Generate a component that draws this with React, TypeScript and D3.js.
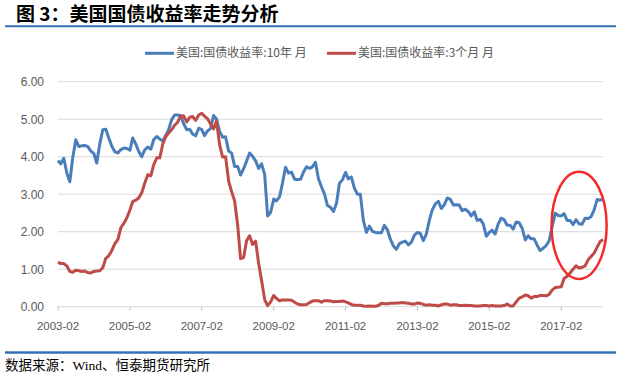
import { useMemo } from "react";
import * as d3 from "d3";

// monthly averages, 2003-02 .. 2018-04
const tenYear = [
  3.90, 3.81, 3.96, 3.57, 3.33, 3.98, 4.45, 4.27, 4.29, 4.30, 4.27,
  4.15, 4.08, 3.83, 4.35, 4.72, 4.73, 4.50, 4.28, 4.13, 4.10, 4.19, 4.23,
  4.22, 4.17, 4.50, 4.34, 4.14, 4.00, 4.18, 4.26, 4.20, 4.46, 4.54, 4.47,
  4.42, 4.57, 4.72, 4.99, 5.11, 5.11, 5.09, 4.88, 4.72, 4.73, 4.60, 4.56,
  4.76, 4.72, 4.56, 4.69, 4.75, 5.10, 5.00, 4.67, 4.52, 4.53, 4.15, 4.10,
  3.74, 3.74, 3.51, 3.68, 3.88, 4.10, 4.01, 3.89, 3.69, 3.81, 3.53, 2.42,
  2.52, 2.87, 2.82, 2.93, 3.29, 3.72, 3.56, 3.59, 3.40, 3.39, 3.40, 3.59,
  3.73, 3.69, 3.73, 3.85, 3.42, 3.20, 3.01, 2.70, 2.65, 2.54, 2.76, 3.29,
  3.39, 3.58, 3.41, 3.46, 3.17, 3.00, 3.00, 2.30, 1.98, 2.15, 2.01, 1.98,
  1.97, 1.97, 2.17, 2.05, 1.80, 1.62, 1.53, 1.68, 1.72, 1.75, 1.65, 1.72,
  1.91, 1.98, 1.96, 1.76, 1.93, 2.30, 2.58, 2.74, 2.81, 2.62, 2.72, 2.90,
  2.86, 2.71, 2.72, 2.71, 2.56, 2.60, 2.54, 2.42, 2.53, 2.30, 2.33, 2.21,
  1.88, 1.98, 2.04, 1.94, 2.20, 2.36, 2.32, 2.17, 2.17, 2.07, 2.26, 2.24,
  2.09, 1.78, 1.89, 1.81, 1.81, 1.64, 1.50, 1.56, 1.63, 1.76, 2.14, 2.49,
  2.43, 2.42, 2.48, 2.30, 2.30, 2.19, 2.32, 2.21, 2.20, 2.36, 2.35, 2.40,
  2.58, 2.86, 2.84, 2.87,
];

const threeMonth = [
  1.19, 1.15, 1.15, 1.09, 0.94, 0.92, 0.97, 0.96, 0.94, 0.95, 0.91,
  0.90, 0.94, 0.95, 0.96, 1.04, 1.29, 1.36, 1.50, 1.68, 1.79, 2.11, 2.22,
  2.37, 2.58, 2.80, 2.84, 2.90, 3.04, 3.29, 3.52, 3.49, 3.79, 3.97, 3.97,
  4.34, 4.54, 4.63, 4.72, 4.84, 4.92, 5.08, 5.09, 4.93, 5.05, 5.07, 4.97,
  5.11, 5.16, 5.08, 5.01, 4.87, 4.74, 4.96, 4.32, 3.99, 4.00, 3.35, 3.07,
  2.82, 2.17, 1.28, 1.31, 1.76, 1.89, 1.66, 1.75, 1.15, 0.69, 0.19, 0.03,
  0.13, 0.30, 0.22, 0.16, 0.18, 0.18, 0.18, 0.17, 0.12, 0.07, 0.05, 0.05,
  0.06, 0.11, 0.15, 0.16, 0.16, 0.12, 0.16, 0.16, 0.15, 0.13, 0.14, 0.14,
  0.15, 0.13, 0.10, 0.06, 0.04, 0.04, 0.04, 0.02, 0.01, 0.02, 0.01, 0.01,
  0.03, 0.09, 0.08, 0.08, 0.09, 0.09, 0.10, 0.10, 0.11, 0.10, 0.09, 0.07,
  0.07, 0.10, 0.09, 0.06, 0.04, 0.05, 0.04, 0.04, 0.02, 0.05, 0.07, 0.07,
  0.04, 0.05, 0.05, 0.03, 0.03, 0.04, 0.03, 0.03, 0.02, 0.02, 0.02, 0.03,
  0.03, 0.02, 0.03, 0.02, 0.02, 0.02, 0.03, 0.07, 0.02, 0.02, 0.13, 0.23,
  0.26, 0.31, 0.29, 0.23, 0.27, 0.27, 0.30, 0.30, 0.29, 0.33, 0.45, 0.51,
  0.52, 0.53, 0.75, 0.81, 0.90, 1.00, 1.09, 1.03, 1.05, 1.09, 1.25, 1.34,
  1.43, 1.59, 1.73, 1.79,
];

const xTickLabels = ["2003-02", "2005-02", "2007-02", "2009-02", "2011-02", "2013-02", "2015-02", "2017-02"];
const yTicks = [0, 1, 2, 3, 4, 5, 6];

const seriesNames = ["美国:国债收益率:10年 月", "美国:国债收益率:3个月 月"];
const seriesColors = ["#4a7ebb", "#be4b48"];

const title = "图 3：美国国债收益率走势分析";
const source = "数据来源：Wind、恒泰期货研究所";

// red ring drawn around the latest months
const ringCenter = { month: "2017-08", value: 2.17 };

const W = 630;
const H = 372;
const PLOT = { left: 58, right: 603, top: 81.7, bottom: 306.7 };

const parseMonth = d3.timeParse("%Y-%m");

export default function App() {
  const months = useMemo(
    () => d3.timeMonth.range(new Date(2003, 1, 1), new Date(2018, 4, 1)),
    []
  );

  const xScale = useMemo(
    () => d3.scaleTime().domain([months[0], months[months.length - 1]]).range([PLOT.left, PLOT.right]),
    [months]
  );
  const yScale = d3.scaleLinear().domain([0, 6]).range([PLOT.bottom, PLOT.top]);

  const line = d3
    .line<number>()
    .x((_, i) => xScale(months[i]))
    .y((d) => yScale(d));

  const ringDate = parseMonth(ringCenter.month)!;
  const cx = xScale(ringDate);
  const cy = yScale(ringCenter.value);
  const rx = xScale(d3.timeDay.offset(ringDate, 280)) - cx;
  const ry = yScale(0) - yScale(1.43);

  const axisFont = "'Liberation Sans', Arial, sans-serif";
  const cjkFont = "'Noto Sans CJK SC', sans-serif";

  return (
    <svg width={W} height={H} style={{ position: "absolute", left: 0, top: 0, background: "#fff" }}>
      {/* Title */}
      <text x={16} y={20.5} fontFamily={cjkFont} fontWeight="bold" fontSize={19} fill="#000">
        {title}
      </text>
      <line x1={5} x2={616} y1={26.3} y2={26.3} stroke="#3470b3" strokeWidth={2} />

      {/* Legend */}
      {seriesNames.map((name, i) => {
        const lx = i === 0 ? 145 : 327;
        return (
          <g key={name}>
            <line x1={lx} x2={lx + 29} y1={53.3} y2={53.3} stroke={seriesColors[i]} strokeWidth={3} />
            <text x={lx + 31} y={53.5} dominantBaseline="middle" fontFamily={cjkFont} fontSize={12} fill="#595959">
              {name}
            </text>
          </g>
        );
      })}

      {/* Grid + y labels */}
      {yTicks.map((t) => (
        <g key={t}>
          <line x1={PLOT.left} x2={PLOT.right} y1={yScale(t)} y2={yScale(t)} stroke="#d9d9d9" strokeWidth={1} />
          <text x={44} y={yScale(t) + 1.5} textAnchor="end" dominantBaseline="middle" fontFamily={axisFont} fontSize={12} fill="#595959">
            {d3.format(".2f")(t)}
          </text>
        </g>
      ))}

      {/* X ticks */}
      {xTickLabels.map((lab) => {
        const tx = xScale(parseMonth(lab)!);
        return (
          <g key={lab}>
            <line x1={tx} x2={tx} y1={PLOT.bottom} y2={PLOT.bottom + 4} stroke="#bfbfbf" />
            <text x={tx} y={327} textAnchor="middle" dominantBaseline="middle" fontFamily={axisFont} fontSize={11.5} fill="#595959">
              {lab}
            </text>
          </g>
        );
      })}

      {/* Series */}
      <path d={line(tenYear) ?? ""} fill="none" stroke={seriesColors[0]} strokeWidth={3} strokeLinejoin="round" />
      <path d={line(threeMonth) ?? ""} fill="none" stroke={seriesColors[1]} strokeWidth={3} strokeLinejoin="round" />

      {/* Annotation ring */}
      <ellipse cx={cx} cy={cy} rx={rx} ry={ry} fill="none" stroke="#f52a2a" strokeWidth={2.5} />

      {/* Footer */}
      <line x1={5} x2={616} y1={352.5} y2={352.5} stroke="#3470b3" strokeWidth={2.5} />
      <text x={5} y={370} fontFamily="'Liberation Serif', 'Noto Sans CJK SC', serif" fontSize={13.5} fill="#000">
        {source}
      </text>
    </svg>
  );
}
